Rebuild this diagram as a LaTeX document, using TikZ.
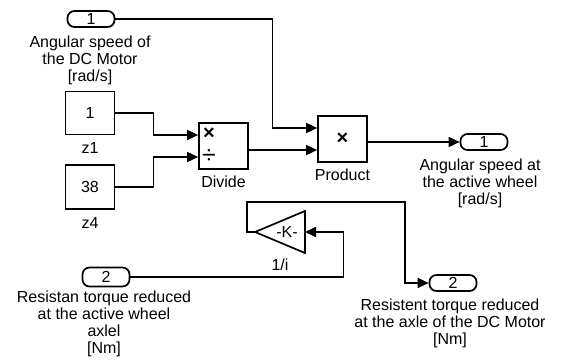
\documentclass[tikz,border=0pt]{standalone}
\usepackage{fontspec}
\setmainfont{Liberation Sans}
\usetikzlibrary{arrows.meta, positioning}

\begin{document}
\begin{tikzpicture}[
  x=1pt, y=-1pt,
  font=\fontsize{16}{17}\selectfont,
  block/.style={draw, line width=1.7pt, minimum width=49pt, minimum height=45pt, inner sep=0pt},
  port/.style={draw, line width=1.7pt, rounded corners=7pt, minimum width=47pt, minimum height=16pt, inner sep=0pt},
  lbl/.style={align=center, inner sep=0pt},
  sign/.style={inner sep=0pt, font=\fontsize{20}{20}\selectfont\bfseries},
  wire/.style={line width=1.7pt},
  arrow/.style={wire, -{Triangle[length=11pt, width=10pt]}}
]
\useasboundingbox (0,0) rectangle (562,361);

% sources
\node[port] (in1) at (91,19) {1};
\node[lbl] at (90,60) {Angular speed of\\the DC Motor\\{[rad/s]}};
\node[block, minimum height=43pt] (c1) at (90,113) {1};
\node[lbl, below=7pt of c1] (z1) {z1};
\node[block, minimum height=44pt] (c38) at (90,187) {38};
\node[lbl, below=7pt of c38] (z4) {z4};
\node[port, minimum height=19pt] (in2) at (106,277) {2};
\node[lbl] at (104,324) {Resistan torque reduced\\at the active wheel\\axlel\\{[Nm]}};

% math blocks
\node[block, minimum height=46pt] (div) at (223.5,146) {};
\node[sign] (mul) at (209,134) {×};
\node[sign, font=\fontsize{25}{25}\selectfont] (quo) at (209,157) {÷};
\node[lbl, below=6pt of div] (divlbl) {Divide};
\coordinate (divin1) at (div.west |- 0,135);
\coordinate (divin2) at (div.west |- 0,157);

\node[block, minimum height=46pt] (prod) at (342.5,139) {};
\node[sign] at (prod) {×};
\node[lbl, below=6pt of prod] (prodlbl) {Product};
\coordinate (prodin1) at (prod.west |- 0,128);
\coordinate (prodin2) at (prod.west |- 0,150);

% gain
\draw[wire, line join=miter] (305,211) -- (305,253) -- (255,232) -- cycle;
\node (gain) at (287,232) {-K-};
\coordinate (gainin) at (305,232);
\coordinate (gainout) at (255,232);
\node[lbl] (gainlbl) at (280,265) {1/i};

% sinks
\node[port] (out1) at (484,142) {1};
\node[lbl] at (480,183) {Angular speed at\\the active wheel\\{[rad/s]}};
\node[port] (out2) at (453,283) {2};
\node[lbl] at (450,323) {Resistent torque reduced\\at the axle of the DC Motor\\{[Nm]}};

% wires
\draw[arrow] (in1.east) -- ++(157,0) |- (prodin1);
\draw[arrow] (c1.east) -- ++(38,0) |- (divin1);
\draw[arrow] (c38.east) -- ++(38,0) |- (divin2);
\draw[arrow] (div.east |- prodin2) -- (prodin2);
\draw[arrow] (prod.east |- out1.west) -- (out1.west);
\draw[arrow] (in2.east) -- ++(213,0) |- (gainin);
\draw[arrow] (gainout) -- ++(-8,0) |- (405,202) |- (out2.west);
\end{tikzpicture}
\end{document}
